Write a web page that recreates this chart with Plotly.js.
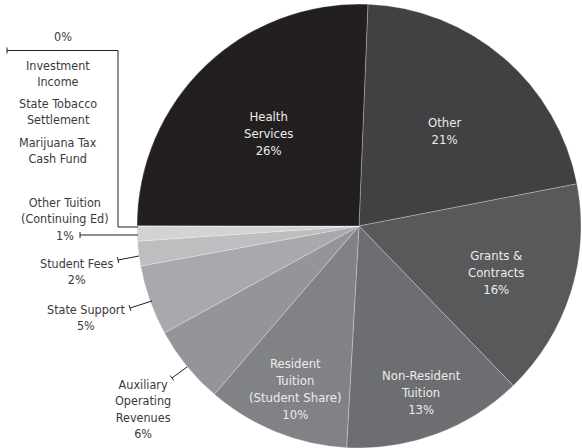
<!DOCTYPE html>
<html>
<head>
<meta charset="utf-8">
<script src="https://cdn.plot.ly/plotly-3.0.1.min.js"></script>
<style>html,body{margin:0;padding:0;background:#fff}#chart{width:582px;height:448px}</style>
</head>
<body>
<div id="chart"></div>
<script>
// ---- data ----
var categories = ["Other", "Grants & Contracts", "Non-Resident Tuition", "Resident Tuition (Student Share)",
  "Auxiliary Operating Revenues", "State Support", "Student Fees", "Other Tuition (Continuing Ed)",
  "Marijuana Tax Cash Fund", "State Tobacco Settlement", "Investment Income", "Health Services"];
var values = [21.3, 15.8, 13.1, 10.4, 5.7, 5.1, 1.8, 1.1, 0, 0, 0, 25.6];
var labelLines = ["Other", "Grants &<br>Contracts", "Non-Resident<br>Tuition", "Resident<br>Tuition<br>(Student Share)",
  "Auxiliary<br>Operating<br>Revenues", "State Support", "Student Fees", "Other Tuition<br>(Continuing Ed)",
  "Marijuana Tax<br>Cash Fund", "State Tobacco<br>Settlement", "Investment<br>Income", "Health<br>Services"];
var colors = ["#414042", "#58595b", "#6d6e71", "#808285", "#939598", "#a7a9ac", "#bcbec0", "#d1d3d4",
  "#e0e0e0", "#e0e0e0", "#e0e0e0", "#231f20"];

var W = 582, H = 448;
function px(x){ return x / W; }
function py(y){ return 1 - y / H; }

var total = values.reduce(function(a, b){ return a + b; }, 0);
function pct(i){ return Math.round(values[i] / total * 100) + "%"; }

var trace = {
  type: "pie",
  labels: categories,
  values: values,
  textinfo: "none",
  sort: false,
  direction: "clockwise",
  rotation: 2.3,
  hoverinfo: "none",
  marker: {colors: colors, line: {color: "rgba(255,255,255,0.45)", width: 0.6}},
  domain: {x: [px(359 - 222), px(359 + 222)], y: [py(226 + 222), py(226 - 222)]},
  showlegend: false
};

var family = "DejaVu Sans Condensed, DejaVu Sans, sans-serif";
var inFont = {family: family, size: 13, color: "#ececec"};
var outFont = {family: family, size: 12.5, color: "#3a3a3a"};
function ann(text, x, y, font){
  return {text: text, x: px(x), y: py(y), xref: "paper", yref: "paper", showarrow: false,
    xanchor: "center", yanchor: "middle", align: "center", font: font || outFont};
}
function idx(name){ return categories.indexOf(name); }
function inside(name, x, y){
  var i = idx(name);
  return ann(labelLines[i] + "<br>" + pct(i), x, y, inFont);
}
function outside(name, x, y){
  var i = idx(name);
  return ann(labelLines[i] + "<br>" + pct(i), x, y, outFont);
}
var annotations = [
  inside("Health Services", 268, 133),
  inside("Other", 445, 131),
  inside("Grants & Contracts", 496, 272),
  inside("Non-Resident Tuition", 421, 392),
  inside("Resident Tuition (Student Share)", 295, 389),
  ann(pct(idx("Investment Income")), 63, 37),
  ann(labelLines[idx("Investment Income")], 58, 74),
  ann(labelLines[idx("State Tobacco Settlement")], 58, 111),
  ann(labelLines[idx("Marijuana Tax Cash Fund")], 58, 150),
  ann(labelLines[idx("Other Tuition (Continuing Ed)")], 65, 211),
  ann(pct(idx("Other Tuition (Continuing Ed)")), 65, 235),
  outside("Student Fees", 76, 271),
  outside("State Support", 86, 317),
  outside("Auxiliary Operating Revenues", 143, 409)
];

var shapes = [];
function seg(x0, y0, x1, y1){
  shapes.push({type: "line", xref: "paper", yref: "paper", x0: px(x0), y0: py(y0), x1: px(x1), y1: py(y1),
    line: {color: "#231f20", width: 1}});
}
function leader(x0, y0, x1, y1){
  seg(x0, y0, x1, y1);
  var dx = x1 - x0, dy = y1 - y0, L = Math.sqrt(dx*dx + dy*dy);
  var nx = -dy / L * 3, ny = dx / L * 3;
  seg(x0 - nx, y0 - ny, x0 + nx, y0 + ny);
}
// bracket for zero-valued items
leader(7, 50.5, 118, 50.5);
seg(118, 50.5, 118, 227);
seg(118, 227, 138, 227);
leader(80, 235, 138, 235);
leader(118, 260, 139, 256);
leader(130, 308, 152, 301);
leader(172, 378, 187, 367);

var layout = {
  width: W, height: H,
  margin: {l: 0, r: 0, t: 0, b: 0},
  paper_bgcolor: "#ffffff",
  annotations: annotations,
  shapes: shapes,
  showlegend: false
};
Plotly.newPlot("chart", [trace], layout, {displayModeBar: false, staticPlot: true});
</script>
</body>
</html>
